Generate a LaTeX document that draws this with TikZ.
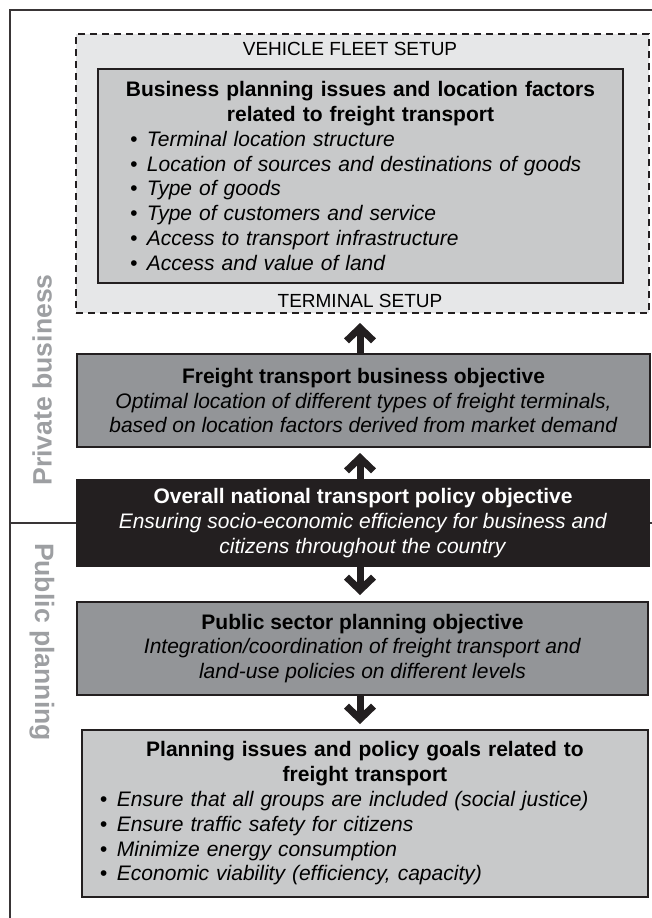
\documentclass[tikz,border=0pt]{standalone}
\usepackage{fontspec}
\setmainfont{Liberation Sans}
\usetikzlibrary{arrows.meta}
\usetikzlibrary{positioning}

\definecolor{setupgray}{HTML}{E6E7E8}
\definecolor{lightbox}{HTML}{C8C9CA}
\definecolor{midbox}{HTML}{939598}
\definecolor{darkbox}{HTML}{231F20}
\definecolor{sidegray}{HTML}{9D9FA2}

\newcommand{\bul}{\makebox[8.5pt][l]{\textbullet}}

\begin{document}
\begin{tikzpicture}[x=0.5pt,y=-0.5pt,
    box/.style={rectangle,draw=darkbox,line width=1pt,inner sep=0pt,align=center,font=\fontsize{10.5}{12.4}\selectfont},
    light box/.style={box,fill=lightbox,align=left},
    mid box/.style={box,fill=midbox},
    black box/.style={box,fill=darkbox,text=white},
    setup box/.style={rectangle,draw=darkbox,line width=1pt,dash pattern=on 3.5pt off 2.5pt,fill=setupgray},
    setup label/.style={inner sep=0pt,font=\fontsize{9.5}{11}\selectfont},
    side label/.style={inner sep=0pt,text=sidegray,font=\fontsize{13.3}{15}\selectfont\bfseries},
    frame line/.style={draw=darkbox!90,line width=0.75pt},
    big arrow/.style={draw=darkbox,line width=3.5pt,-{Straight Barb[length=6.5pt,width=13.5pt,line width=3.5pt]}}]
  \useasboundingbox (0,0) rectangle (652,918);
  \coordinate (topleft) at (10,10);
  \coordinate (topright) at (652,10);
  \coordinate (bottomleft) at (10,918);
  \coordinate (axis) at (360,0);

  % private business part
  \node[setup box,minimum width=286.5pt,minimum height=139.5pt] (fleet) at (362.5,173.5) {};
  \node[setup label,below=4.5pt of fleet.north,xshift=-6.25pt] (vehicle) {VEHICLE FLEET SETUP};
  \node[setup label,above=3.1pt of fleet.south,xshift=-1.25pt] (terminal) {TERMINAL SETUP};
  \node[light box,minimum height=107pt,text width=262.5pt] (biz) at (360.5,176) {%
    {\centering\bfseries Business planning issues and location factors\\ related to freight transport\par}
    {\leftskip=16pt\itshape
    \bul Terminal location structure\par
    \bul Location of sources and destinations of goods\par
    \bul Type of goods\par
    \bul Type of customers and service\par
    \bul Access to transport infrastructure\par
    \bul Access and value of land\par}};
  \node[mid box,minimum width=286.5pt,minimum height=46.5pt] (freight) at (363.5,400.5) {\textbf{Freight transport business objective}\\
    \textit{Optimal location of different types of freight terminals,}\\
    \textit{based on location factors derived from market demand}};

  % national policy
  \node[black box,minimum width=286pt,minimum height=43pt] (policy) at (363,523) {\textbf{Overall national transport policy objective}\\
    \textit{Ensuring socio-economic efficiency for business and}\\
    \textit{citizens throughout the country}};

  % public planning part
  \node[mid box,minimum width=285.5pt,minimum height=46.5pt] (public) at (362.5,648.5) {\textbf{Public sector planning objective}\\
    \textit{Integration/coordination of freight transport and}\\
    \textit{land-use policies on different levels}};
  \node[light box,minimum height=83.5pt,text width=283pt] (goals) at (365,813.5) {%
    {\centering\bfseries Planning issues and policy goals related to\\ freight transport\par}
    {\leftskip=9pt\itshape
    \bul Ensure that all groups are included (social justice)\par
    \bul Ensure traffic safety for citizens\par
    \bul Minimize energy consumption\par
    \bul Economic viability (efficiency, capacity)\par}};

  \node[side label,rotate=90] (private) at (42,380) {Private business};
  \node[side label,rotate=-90] (planning) at (42,642) {Public planning};

  % frame and divider
  \draw[frame line] (topright) -- (topleft) -- (bottomleft);
  \draw[frame line] (policy.west) -- (policy.west -| topleft);
  \draw[frame line] (policy.east) -- (policy.east -| topright);

  \draw[big arrow,shorten >=4.5pt] (freight.north -| axis) -- (fleet.south -| axis);
  \draw[big arrow,shorten >=2.5pt] (policy.north -| axis) -- (freight.south -| axis);
  \draw[big arrow,shorten >=3pt] (policy.south -| axis) -- (public.north -| axis);
  \draw[big arrow,shorten >=2.5pt] (public.south -| axis) -- (goals.north -| axis);
\end{tikzpicture}
\end{document}
